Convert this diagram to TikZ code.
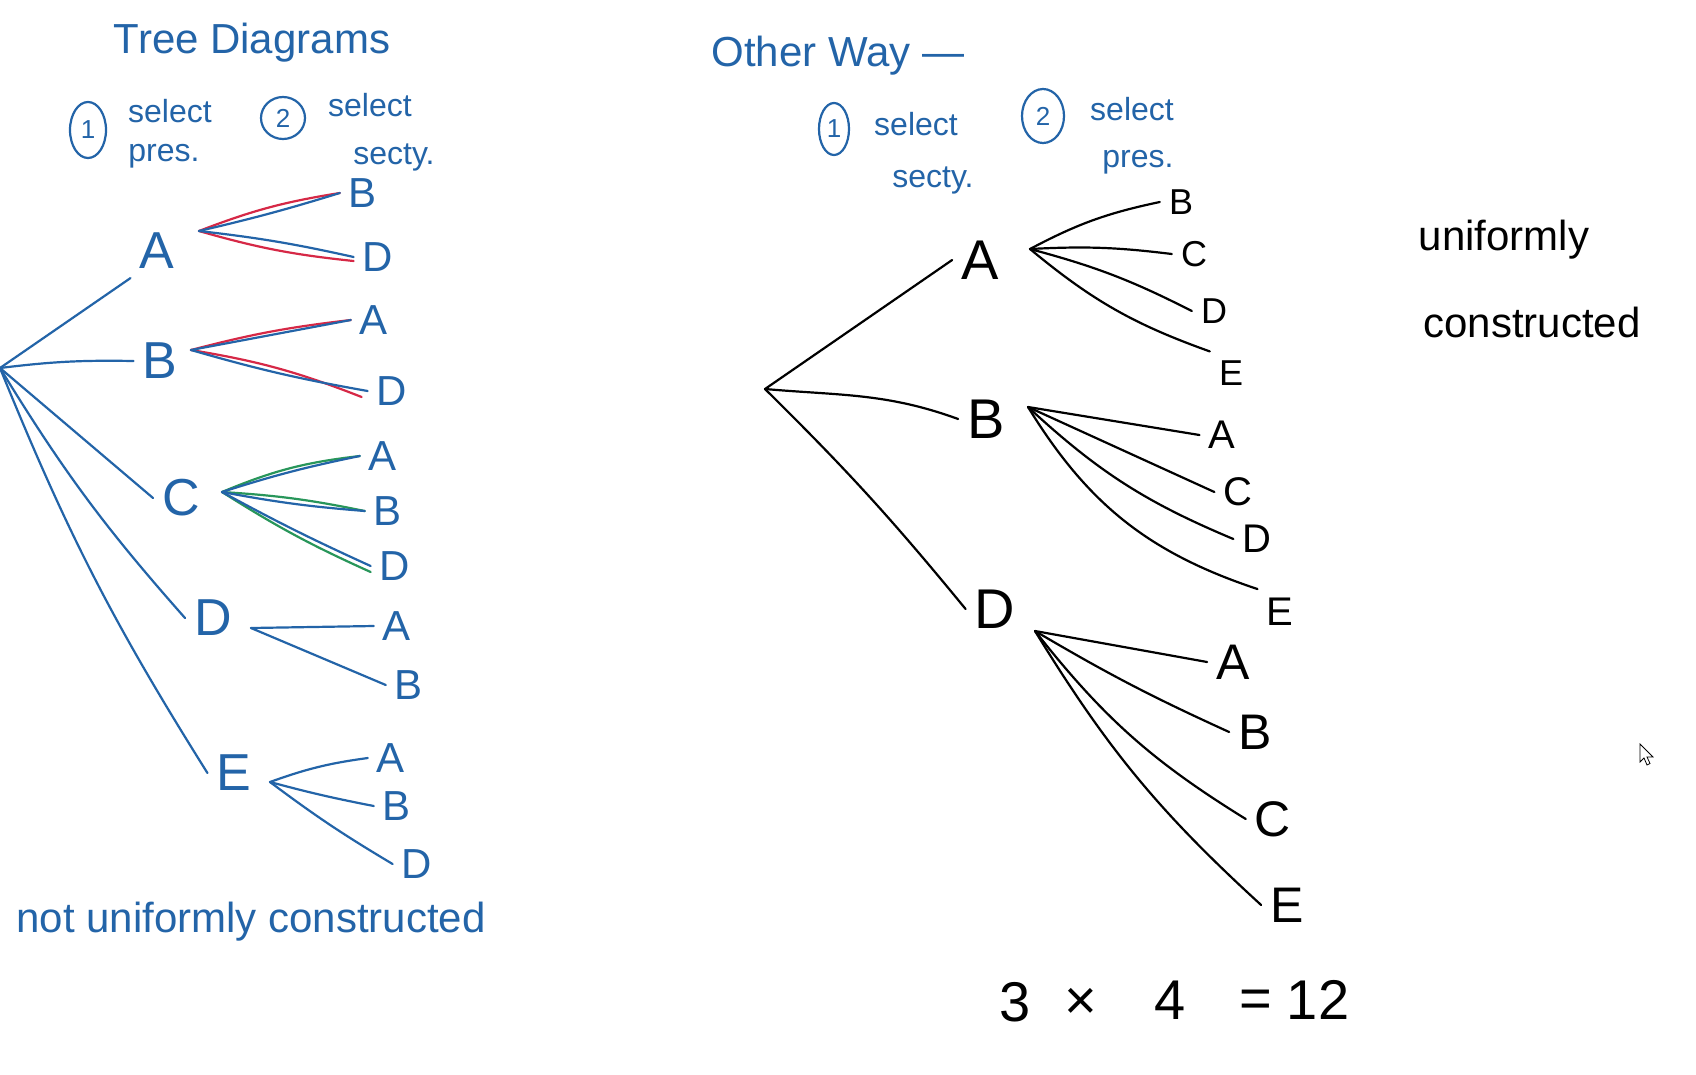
\documentclass[tikz,border=0pt]{standalone}
\usepackage{fontspec}
\setmainfont{Liberation Sans}
\usetikzlibrary{shapes.geometric}
\definecolor{hb}{RGB}{35,100,168}
\definecolor{hr}{RGB}{214,40,70}
\definecolor{hg}{RGB}{40,150,90}
\begin{document}
\begin{tikzpicture}[x=1pt,y=1pt,
  edge/.style={line width=2.2pt,line cap=round},
  lvlone/.style={inner sep=9pt,font=\fontsize{52}{52}\selectfont},
  lvltwo/.style={inner sep=9pt,font=\fontsize{42}{42}\selectfont},
  rone/.style={inner sep=9pt,font=\fontsize{56}{56}\selectfont},
  rtwoa/.style={inner sep=9pt,font=\fontsize{36}{36}\selectfont},
  rtwob/.style={inner sep=9pt,font=\fontsize{40}{40}\selectfont},
  rtwoc/.style={inner sep=9pt,font=\fontsize{50}{50}\selectfont},
  note/.style={inner sep=0pt,font=\fontsize{32}{32}\selectfont},
  big/.style={inner sep=0pt,font=\fontsize{42}{42}\selectfont},
  circnum/.style={draw,ellipse,line width=2.2pt,inner sep=0pt,font=\fontsize{26}{26}\selectfont},
  digit/.style={inner sep=0pt,font=\fontsize{56}{56}\selectfont}]
\useasboundingbox[fill=white] (0,0) rectangle (1696,-1074);

% ---------------- left: headings ----------------
\node[big,hb] (title) at (252,-43) {Tree Diagrams};
\node[circnum,hb,minimum width=36pt,minimum height=56pt] (lc1) at (88,-130) {1};
\node[note,hb] (ls1) at (170,-111) {select};
\node[note,hb] (lp1) at (164,-156) {pres.};
\node[circnum,hb,minimum width=44pt,minimum height=42pt] (lc2) at (283,-118) {2};
\node[note,hb] (ls2) at (370,-105) {select};
\node[note,hb] (lp2) at (394,-157) {secty.};
\node[big,hb] (notu) at (251,-922) {not uniformly constructed};

% ---------------- left tree ----------------
\coordinate (L0) at (0,-368);
\node[lvlone,hb] (LA) at (157,-251) {A};
\node[lvlone,hb] (LB) at (160,-361) {B};
\node[lvlone,hb] (LC) at (181,-498) {C};
\node[lvlone,hb] (LD) at (213,-618) {D};
\node[lvlone,hb] (LE) at (234,-773) {E};
\coordinate (LAf) at (199,-231);
\coordinate (LBf) at (191,-350);
\coordinate (LCf) at (222,-492);
\coordinate (LDf) at (251,-628);
\coordinate (LEf) at (270,-782);
\node[lvltwo,hb] (LAB) at (363,-193) {B};
\node[lvltwo,hb] (LAD) at (378,-257) {D};
\node[lvltwo,hb] (LBA) at (374,-320) {A};
\node[lvltwo,hb] (LBD) at (392,-391) {D};
\node[lvltwo,hb] (LCA) at (383,-456) {A};
\node[lvltwo,hb] (LCB) at (388,-511) {B};
\node[lvltwo,hb] (LCD) at (395,-566) {D};
\node[lvltwo,hb] (LDA) at (397,-626) {A};
\node[lvltwo,hb] (LDB) at (409,-685) {B};
\node[lvltwo,hb] (LEA) at (391,-758) {A};
\node[lvltwo,hb] (LEB) at (397,-806) {B};
\node[lvltwo,hb] (LED) at (417,-864) {D};

\draw[edge,hb] (L0) -- (LA.south west);
\draw[edge,hb] (L0) to[bend left=4] (LB.west);
\draw[edge,hb] (L0) -- (LC.west);
\draw[edge,hb] (L0) to[bend right=5] (LD.west);
\draw[edge,hb] (L0) to[bend right=5] (LE.west);

\draw[edge,hr] (LAf) to[bend left=6] (LAB.west);
\draw[edge,hr] (LAf) to[bend right=5] ([yshift=-4pt]LAD.west);
\draw[edge,hb] (LAf) to[bend right=2] (LAB.west);
\draw[edge,hb] (LAf) to[bend left=3] (LAD.west);
\draw[edge,hr] (LBf) to[bend left=4] (LBA.west);
\draw[edge,hr] (LBf) to[bend left=6] ([xshift=-6pt,yshift=-6pt]LBD.west);
\draw[edge,hb] (LBf) -- (LBA.west);
\draw[edge,hb] (LBf) to[bend right=3] (LBD.west);

\draw[edge,hg] (LCf) to[bend left=8] (LCA.west);
\draw[edge,hg] (LCf) to[bend left=4] (LCB.west);
\draw[edge,hg] (LCf) to[bend right=4] ([yshift=-6pt]LCD.west);
\draw[edge,hb] (LCf) to[bend left=3] (LCA.west);
\draw[edge,hb] (LCf) to[bend right=3] (LCB.west);
\draw[edge,hb] (LCf) to[bend right=2] (LCD.west);

\draw[edge,hb] (LDf) -- (LDA.west);
\draw[edge,hb] (LDf) -- (LDB.west);
\draw[edge,hb] (LEf) to[bend left=6] (LEA.west);
\draw[edge,hb] (LEf) to[bend right=2] (LEB.west);
\draw[edge,hb] (LEf) to[bend right=3] (LED.west);

% ---------------- right: headings ----------------
\node[big,hb] (other) at (838,-56) {Other Way —};
\node[circnum,hb,minimum width=30pt,minimum height=52pt] (rc1) at (834,-129) {1};
\node[note,hb] (rs1) at (916,-124) {select};
\node[note,hb] (rp1) at (933,-180) {secty.};
\node[circnum,hb,minimum width=42pt,minimum height=54pt] (rc2) at (1043,-116) {2};
\node[note,hb] (rs2) at (1132,-109) {select};
\node[note,hb] (rp2) at (1138,-162) {pres.};
\node[big] (unif) at (1504,-240) {uniformly};
\node[big] (cons) at (1532,-322) {constructed};

% ---------------- right tree ----------------
\coordinate (R0) at (765,-389);
\node[rone] (RA) at (980,-260) {A};
\node[rone] (RB) at (986,-419) {B};
\node[rone] (RD) at (995,-609) {D};
\coordinate (RAf) at (1030,-249);
\coordinate (RBf) at (1028,-407);
\coordinate (RDf) at (1035,-631);
\node[rtwoa] (RAB) at (1181,-202) {B};
\node[rtwoa] (RAC) at (1194,-254) {C};
\node[rtwoa] (RAD) at (1214,-311) {D};
\node[rtwoa] (RAE) at (1231,-373) {E};
\node[rtwob] (RBA) at (1222,-435) {A};
\node[rtwob] (RBC) at (1238,-492) {C};
\node[rtwob] (RBD) at (1257,-539) {D};
\node[rtwob] (RBE) at (1280,-612) {E};
\node[rtwoc] (RDA) at (1233,-662) {A};
\node[rtwoc] (RDB) at (1255,-732) {B};
\node[rtwoc] (RDC) at (1273,-819) {C};
\node[rtwoc] (RDE) at (1287,-905) {E};

\draw[edge] (R0) -- (RA.west);
\draw[edge] (R0) to[out=-5,in=160] (RB.west);
\draw[edge] (R0) to[bend left=3] (RD.west);

\draw[edge] (RAf) to[bend left=8] (RAB.west);
\draw[edge] (RAf) to[bend left=5] (RAC.west);
\draw[edge] (RAf) to[bend left=6] (RAD.west);
\draw[edge] (RAf) to[bend right=10] (RAE.north west);

\draw[edge] (RBf) -- (RBA.west);
\draw[edge] (RBf) -- (RBC.west);
\draw[edge] (RBf) to[bend right=10] (RBD.west);
\draw[edge] (RBf) to[bend right=20] (RBE.north west);

\draw[edge] (RDf) -- (RDA.west);
\draw[edge] (RDf) to[bend right=3] (RDB.west);
\draw[edge] (RDf) to[bend right=10] (RDC.west);
\draw[edge] (RDf) to[bend right=8] (RDE.west);

% ---------------- product ----------------
\node[digit] (n3) at (1015,-1002) {3};
\node[digit] (times) at (1081,-1004) {×};
\node[digit] (n4) at (1170,-1000) {4};
\node[digit] (eq) at (1256,-1004) {=};
\node[digit] (n12) at (1318,-1000) {12};

% cursor
\draw[line width=0.8pt,fill=white] (1640,-744) -- (1640,-762) -- (1644,-758) -- (1647,-765) -- (1650,-763.5) -- (1647,-757) -- (1653,-757) -- cycle;
\end{tikzpicture}
\end{document}
